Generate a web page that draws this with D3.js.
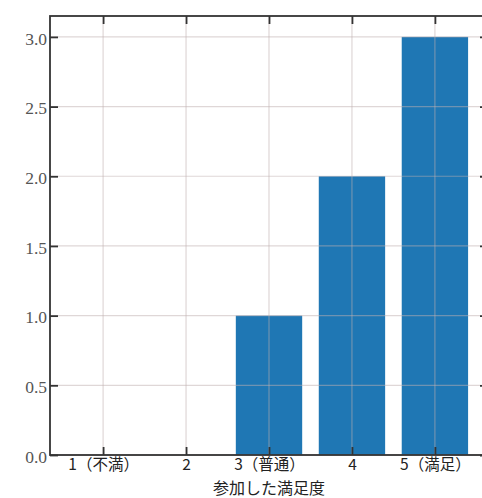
<!DOCTYPE html>
<html><head><meta charset="utf-8">
<script src="https://cdn.jsdelivr.net/npm/d3@7"></script>
<style>body{margin:0;background:#fff}svg{display:block}</style>
</head><body>
<script>
const categories = [1, 2, 3, 4, 5];
const categoryLabels = ["1（不満）", "2", "3（普通）", "4", "5（満足）"];
const counts = [0, 0, 1, 2, 3];
const yTicks = [0, 0.5, 1.0, 1.5, 2.0, 2.5, 3.0];
const xTitle = "参加した満足度";

const W = 482, H = 498;
const L = 50, R = 488, T = 16, B = 455;
const svg = d3.select("body").append("svg").attr("width", W).attr("height", H);
const x = d3.scaleLinear().domain([0.36, 5.64]).range([L, R]);
const y = d3.scaleLinear().domain([0, 3.15]).range([B, T]);
const bw = x(1.8) - x(1);

svg.append("g").selectAll("rect").data(categories).join("rect")
  .attr("x", (d) => x(d) - bw / 2).attr("width", bw)
  .attr("y", (d, i) => y(counts[i])).attr("height", (d, i) => B - y(counts[i]))
  .attr("fill", "#1f77b4");

const grid = svg.append("g").attr("stroke", "#c0b0b0").attr("stroke-opacity", 0.5).attr("stroke-width", 1.2);
grid.selectAll(".v").data(categories).join("line").attr("class", "v")
  .attr("x1", d => x(d)).attr("x2", d => x(d)).attr("y1", T).attr("y2", B);
grid.selectAll(".h").data(yTicks).join("line").attr("class", "h")
  .attr("y1", d => y(d)).attr("y2", d => y(d)).attr("x1", L).attr("x2", R);

const xAxisB = d3.axisBottom(x).tickValues(categories).tickSize(-8).tickPadding(5)
  .tickFormat((d, i) => categoryLabels[i]);
const xAxisT = d3.axisTop(x).tickValues(categories).tickSize(-8).tickFormat("");
const yAxisL = d3.axisLeft(y).tickValues(yTicks).tickSize(-8).tickPadding(3).tickFormat(d3.format(".1f"));
const yAxisR = d3.axisRight(y).tickValues(yTicks).tickSize(-8).tickFormat("");

function style(g) {
  g.selectAll(".tick line").attr("stroke", "#333").attr("stroke-width", 1.8);
}
const gb = svg.append("g").attr("transform", `translate(0,${B})`).call(xAxisB).call(style);
gb.selectAll("text").attr("font-family", "'Noto Sans CJK JP', sans-serif").attr("font-size", 15.5).attr("fill", "#222").attr("dy", "0.62em");
svg.append("g").attr("transform", `translate(0,${T})`).call(xAxisT).call(style);
const gl = svg.append("g").attr("transform", `translate(${L},0)`).call(yAxisL).call(style);
gl.selectAll("text").attr("font-family", "'Liberation Serif', serif").attr("font-size", 17.5).attr("fill", "#555").attr("dy", "0.42em");
svg.append("g").attr("transform", `translate(${R},0)`).call(yAxisR).call(style);
svg.selectAll(".domain").remove();
svg.append("rect").attr("x", L).attr("y", T).attr("width", R - L).attr("height", B - T)
  .attr("fill", "none").attr("stroke", "#333").attr("stroke-width", 1.8);

svg.append("text").attr("x", (L + R) / 2).attr("y", 493.5).attr("text-anchor", "middle")
  .attr("font-family", "'Noto Sans CJK JP', sans-serif").attr("font-size", 16).attr("fill", "#222")
  .text(xTitle);
</script>
</body></html>
